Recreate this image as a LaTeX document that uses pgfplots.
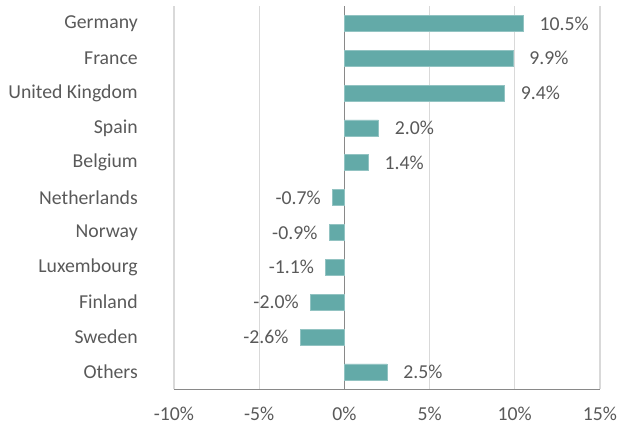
\documentclass[border=0pt]{standalone}
\usepackage{pgfplots}
\pgfplotsset{compat=1.18}
\usepackage{fontspec}
\setmainfont{Carlito}
\definecolor{barc}{HTML}{63AAA8}
\definecolor{gridc}{HTML}{D9D9D9}
\definecolor{axc}{HTML}{898989}
\definecolor{txt}{HTML}{595959}
\begin{document}
\begin{tikzpicture}
\begin{axis}[
  width=319.5pt, height=287.5pt, scale only axis,
  xbar, bar width=12pt, bar shift=0pt,
  xmin=-10, xmax=15, ymin=-0.5, ymax=10.5,
  xtick={-10,-5,0,5,10,15},
  xticklabels={-10\%,-5\%,0\%,5\%,10\%,15\%},
  ytick={0,...,10},
  yticklabels={Others,Sweden,Finland,Luxembourg,Norway,Netherlands,Belgium,Spain,United Kingdom,France,Germany},
  major tick length=0pt,
  xmajorgrids, grid style={gridc, line width=0.9pt},
  axis x line*=bottom, axis y line*=left,
  x axis line style={axc, line width=1pt, -},
  y axis line style={draw=none},
  extra x ticks={0}, extra x tick labels={},
  extra x tick style={grid style={axc, line width=1pt}},
  tick label style={font=\fontsize{14.8}{17}\selectfont, text=txt, inner xsep=0pt},
  yticklabel style={xshift=-27pt},
  xticklabel style={yshift=-9.5pt},
  /pgf/number format/assume math mode=true,
  point meta=x,
  nodes near coords={\pgfmathprintnumber[fixed,fixed zerofill,precision=1]{\pgfplotspointmeta}\%},
  nodes near coords align=horizontal,
  every node near coord/.append style={font=\fontsize{14.8}{17}\selectfont, text=txt},
  clip=false,
]
\addplot[fill=barc, draw=barc!70!white, line width=0.5pt,
  every node near coord/.append style={inner xsep=12pt}] coordinates {
(10.5,10) (9.9,9) (9.4,8) (2.0,7) (1.4,6) (2.5,0)
};
\addplot[fill=barc, draw=barc!70!white, line width=0.5pt,
  every node near coord/.append style={inner xsep=8.5pt}] coordinates {
(-0.7,5) (-0.9,4) (-1.1,3) (-2.0,2) (-2.6,1)
};
\end{axis}
\path (current axis.south west) ++(-130.5pt,-27.75pt) coordinate (bbA);
\path (current axis.north east) ++(12.75pt,4.5pt) coordinate (bbB);
\path (bbA) rectangle (bbB);
\end{tikzpicture}
\end{document}
